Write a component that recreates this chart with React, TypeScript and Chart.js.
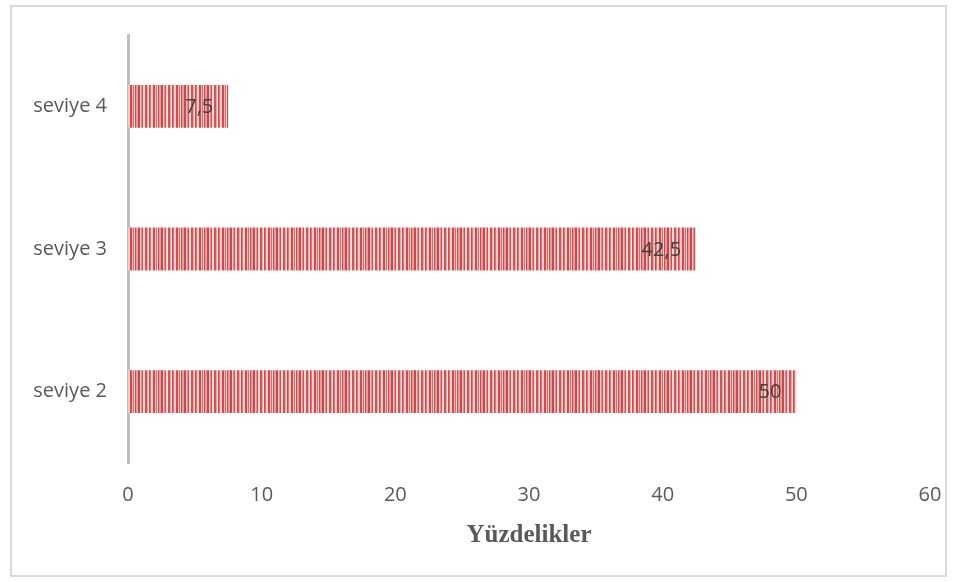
import React, { useEffect, useRef } from "react";
import { Chart, registerables } from "chart.js";

Chart.register(...registerables);

const categories = ["seviye 4", "seviye 3", "seviye 2"];
const values = [7.5, 42.5, 50];
const valueLabels = ["7,5", "42,5", "50"];
const xTicks = [0, 10, 20, 30, 40, 50, 60];
const axisTitle = "Yüzdelikler";

function makePattern(): CanvasPattern | string {
  const c = document.createElement("canvas");
  const stripes: [string, number][] = [
    ["#c94a4b", 2], ["#f2c6c6", 1], ["#e39090", 1], ["#cd5253", 1], ["#f5d6d6", 2],
    ["#cf5657", 2], ["#e9a9a9", 1], ["#f7dede", 1], ["#c84a4a", 1], ["#dc7b7b", 1],
    ["#f3cbcb", 2], ["#cb4e4e", 2], ["#eeb9b9", 1], ["#d86d6d", 1], ["#f6dada", 1],
    ["#c94b4b", 1], ["#e69c9c", 2],
  ];
  const total = stripes.reduce((a, s) => a + s[1], 0);
  c.width = total;
  c.height = 4;
  const ctx = c.getContext("2d");
  if (!ctx) return "#c0504d";
  let x = 0;
  stripes.forEach(([col, w]) => {
    ctx.fillStyle = col;
    ctx.fillRect(x, 0, w, 4);
    x += w;
  });
  const p = ctx.createPattern(c, "repeat");
  return p || "#c0504d";
}

const labelPlugin = {
  id: "valueLabels",
  afterDatasetsDraw(chart: any) {
    const ctx = chart.ctx;
    const meta = chart.getDatasetMeta(0);
    ctx.save();
    ctx.font = "20px 'Open Sans'";
    ctx.fillStyle = "#404040";
    ctx.textAlign = "right";
    ctx.textBaseline = "middle";
    meta.data.forEach((bar: any, i: number) => {
      ctx.fillText(valueLabels[i], bar.x - 15, bar.y + 1);
    });
    ctx.restore();
  },
};

export default function App() {
  const ref = useRef<HTMLCanvasElement | null>(null);
  useEffect(() => {
    document.body.style.margin = "0";
    if (!ref.current) return;
    const chart = new Chart(ref.current, {
      type: "bar",
      data: {
        labels: categories,
        datasets: [
          {
            data: values,
            backgroundColor: makePattern() as any,
            borderWidth: 0,
            barPercentage: 0.6,
            categoryPercentage: 0.5,
          },
        ],
      },
      plugins: [labelPlugin],
      options: {
        indexAxis: "y",
        animation: false,
        responsive: false,
        devicePixelRatio: 1,
        layout: { padding: { left: 0, top: 35, right: 28, bottom: 0 } },
        plugins: { legend: { display: false }, tooltip: { enabled: false } },
        scales: {
          x: {
            min: 0,
            max: 60,
            afterBuildTicks: (s: any) => {
              s.ticks = xTicks.map((v) => ({ value: v }));
            },
            afterFit: (s: any) => {
              s.height = 119;
              s.paddingLeft = 0;
              s.paddingRight = 0;
            },
            grid: { display: false, drawTicks: false },
            border: { display: false },
            ticks: {
              padding: 20,
              color: "#595959",
              font: { family: "'Open Sans'", size: 20 },
            },
            title: {
              display: true,
              text: axisTitle,
              color: "#595959",
              font: { family: "'Liberation Serif'", size: 25, weight: "bold" },
              padding: { top: 0, bottom: 31 },
            },
          },
          y: {
            afterFit: (s: any) => {
              s.width = 128;
            },
            grid: { display: false, drawTicks: false },
            border: { display: true, color: "#bfbfbf", width: 3 },
            ticks: {
              padding: 21,
              color: "#595959",
              font: { family: "'Open Sans'", size: 20 },
            },
          },
        },
      },
    });
    return () => chart.destroy();
  }, []);
  return (
    <div style={{ position: "relative", width: 958, height: 582, background: "#fff" }}>
      <div
        style={{
          position: "absolute",
          left: 10,
          top: 5,
          width: 937,
          height: 572,
          border: "2px solid #d9d9d9",
          boxSizing: "border-box",
        }}
      />
      <canvas ref={ref} width={958} height={582} style={{ position: "absolute", left: 0, top: 0 }} />
    </div>
  );
}
